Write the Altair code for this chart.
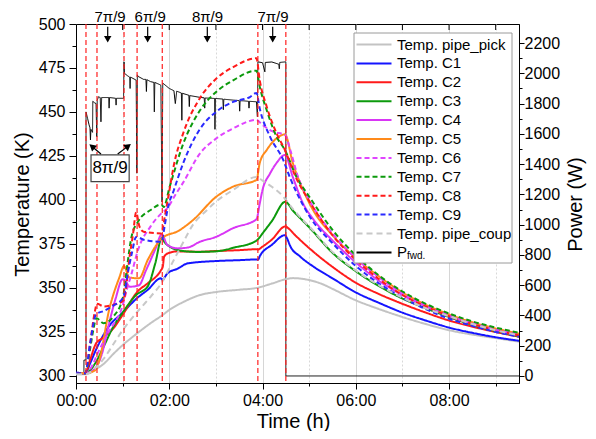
import altair as alt
import pandas as pd

FONT = "Liberation Sans"

SERIES = ["Temp. pipe_pick", "Temp. C1", "Temp. C2", "Temp. C3", "Temp. C4",
          "Temp. C5", "Temp. C6", "Temp. C7", "Temp. C8", "Temp. C9",
          "Temp. pipe_coup", "P_fwd."]
COLORS = ["#c3c3c3", "#1414ff", "#ff1a1a", "#0c9a0c", "#d936f5",
          "#ff8a1a", "#e045ff", "#0c9a0c", "#ff1a1a", "#2a2aff",
          "#c8c8c8", "#000000"]
DASHES = [[1, 0]] * 6 + [[5, 3]] * 4 + [[6, 4], [1, 0]]

# ---- temperature series (time in h, temperature in K) ----
pipe_pick_t = [0, 0.2, 0.4, 0.6, 0.8, 1.0, 1.3, 1.6, 1.85, 2.0, 2.3, 2.66, 3.0, 3.5, 3.87, 4.2, 4.5, 4.65, 5.0, 5.3, 5.5, 6.0, 6.5, 7.0, 7.5, 8.0, 8.5, 9.0, 9.5]
pipe_pick_T = [301, 301, 303.5, 307, 312.5, 317.5, 324, 330, 334.5, 337.5, 342, 346, 347.7, 349, 350, 352.5, 355, 355.6, 354.5, 352, 349.5, 343, 338, 333.5, 329.5, 326, 323.5, 321.5, 319.5]

c1_t = [0, 0.2, 0.3, 0.43, 0.7, 1.0, 1.3, 1.54, 1.82, 1.86, 1.9, 1.96, 2.18, 2.4, 3.0, 3.5, 3.87, 3.9, 3.95, 4.2, 4.48, 4.52, 4.6, 4.8, 5.1, 5.5, 6.0, 6.5, 7.0, 7.5, 8.0, 8.5, 9.0, 9.5]
c1_T = [302, 301.5, 307, 315, 328, 336, 344, 349, 355.5, 354.5, 356, 358.3, 361, 364, 365.3, 365.8, 366.2, 366, 368.5, 374.5, 380, 378.5, 373.5, 368, 362, 355.5, 347.5, 341.5, 336, 331.5, 327.5, 324.5, 322, 320]

c2_t = [0, 0.2, 0.3, 0.43, 0.57, 0.8, 1.0, 1.32, 1.54, 1.82, 1.86, 1.89, 2.0, 2.18, 2.66, 3.0, 3.5, 3.87, 3.9, 4.0, 4.2, 4.49, 4.55, 4.7, 5.09, 5.5, 6.0, 6.5, 7.0, 7.5, 8.0, 8.5, 9.0, 9.5]
c2_T = [301.5, 301.5, 309, 318.5, 321.5, 327, 334.7, 348, 352.7, 360, 362, 367.8, 370, 370.8, 370.6, 371, 371.5, 372, 371.8, 373.5, 377.5, 385, 384, 380, 370.6, 362, 353, 346.5, 341, 336, 331.5, 328, 325, 322.3]

c3_t = [0, 0.2, 0.43, 0.59, 0.8, 1.0, 1.29, 1.54, 1.7, 1.84, 1.9, 2.01, 2.3, 2.6, 3.0, 3.4, 3.87, 3.93, 4.0, 4.2, 4.49, 4.65, 4.87, 5.0, 5.5, 6.0, 6.5, 7.0, 7.5, 8.0, 8.5, 9.0, 9.5]
c3_T = [301.5, 301.5, 308, 316.5, 328, 336, 346, 351, 364, 378.5, 376, 373.5, 371, 370.5, 370.8, 373, 376.9, 378.5, 381, 388, 399, 394, 388, 384.5, 370, 359.5, 351, 344, 338.5, 333.5, 329, 325.5, 322.5]

c4_t = [0, 0.2, 0.4, 0.55, 0.71, 0.85, 1.0, 1.05, 1.15, 1.35, 1.5, 1.7, 1.84, 1.96, 2.18, 2.4, 2.66, 3.0, 3.37, 3.87, 3.94, 4.0, 4.16, 4.3, 4.48, 4.65, 4.87, 5.09, 5.5, 6.0, 6.5, 7.0, 7.5, 8.0, 8.5, 9.0, 9.5]
c4_T = [301.5, 301.5, 304, 312, 330, 344, 355, 354.5, 350.7, 351.5, 360, 372, 380.5, 374.4, 372.5, 373, 376.3, 379, 384, 389, 398, 405.7, 415, 421, 425.6, 413, 398, 389, 377, 364.5, 354, 346, 339.5, 334, 329.5, 326, 322.8]

c5_t = [0, 0.2, 0.4, 0.5, 0.71, 0.93, 1.03, 1.14, 1.35, 1.54, 1.84, 2.2, 2.51, 3.01, 3.37, 3.87, 3.94, 4.09, 4.3, 4.48, 4.65, 4.87, 5.09, 5.5, 6.0, 6.5, 7.0, 7.5, 8.0, 8.5, 9.0, 9.5]
c5_T = [301.5, 301.5, 303, 309, 337.5, 356, 362.5, 356, 355.5, 366, 378.2, 382.5, 388.6, 401.9, 407.6, 411.4, 421, 428.4, 435, 437.3, 421, 405.7, 394, 380, 367, 356.5, 347.5, 340.5, 335, 330.5, 327, 324]

c6_t = [0, 0.2, 0.35, 0.45, 0.7, 1.0, 1.1, 1.19, 1.33, 1.6, 1.83, 1.96, 2.11, 2.3, 2.66, 3.01, 3.37, 3.87, 4.0, 4.23, 4.48, 4.6, 4.75, 5.0, 5.5, 6.0, 6.5, 7.0, 7.5, 8.0, 8.5, 9.0, 9.5]
c6_T = [301.5, 301.5, 306, 312, 325, 340, 350, 358, 371.6, 385, 392.4, 395.3, 402, 410, 426.5, 435, 440.7, 445.5, 442.6, 438.8, 437, 428, 414, 400, 381, 367, 356, 347, 340, 334.5, 330, 326.5, 323.5]

c7_t = [0, 0.2, 0.3, 0.37, 0.44, 0.59, 0.8, 1.01, 1.1, 1.19, 1.33, 1.6, 1.83, 1.88, 2.01, 2.3, 2.66, 3.01, 3.37, 3.87, 3.94, 4.09, 4.3, 4.48, 4.73, 5.0, 5.5, 6.0, 6.5, 7.0, 7.5, 8.0, 8.5, 9.0, 9.5]
c7_T = [301.5, 301.5, 315, 326, 332.8, 330, 333.7, 345, 363, 379, 387.7, 394.3, 397.5, 396, 407.6, 432, 451, 461.5, 468, 473.5, 464.4, 451, 436, 428.4, 413, 402, 383, 368.5, 357, 348, 341, 335.5, 331, 327.5, 324.5]

c8_t = [0, 0.2, 0.3, 0.4, 0.45, 0.6, 0.8, 1.0, 1.05, 1.15, 1.22, 1.29, 1.36, 1.45, 1.83, 1.9, 2.0, 2.1, 2.3, 2.66, 3.01, 3.37, 3.87, 3.94, 4.09, 4.3, 4.48, 4.73, 5.0, 5.5, 6.0, 6.5, 7.0, 7.5, 8.0, 8.5, 9.0, 9.5]
c8_T = [301.5, 301.5, 318, 336, 341, 339.5, 340.5, 342.5, 346, 368, 380, 393, 385, 382, 381, 390, 405, 420, 438, 458, 469, 475.5, 480.5, 468, 453, 438, 428.4, 412, 399.5, 380, 366, 355, 346, 339.5, 334, 329.5, 326, 323]

c9_t = [0, 0.2, 0.3, 0.43, 0.6, 0.8, 1.0, 1.04, 1.11, 1.2, 1.29, 1.47, 1.83, 1.9, 1.96, 2.1, 2.3, 2.65, 3.0, 3.37, 3.73, 3.87, 3.94, 4.16, 4.44, 4.6, 4.87, 5.0, 5.5, 6.0, 6.5, 7.0, 7.5, 8.0, 8.5, 9.0, 9.5]
c9_T = [301.5, 301.5, 318, 335, 337, 340, 344, 347, 358.3, 370, 379, 377.3, 376.3, 385, 394.3, 405.7, 421, 440, 450, 455.7, 458.5, 460.8, 452, 436, 423, 412, 397, 391, 375.5, 362.5, 352.5, 344.5, 338, 332.5, 328.5, 325, 322.3]

pipe_coup_t = [0, 0.2, 0.4, 0.6, 0.8, 1.0, 1.3, 1.6, 1.85, 2.0, 2.3, 2.51, 2.8, 3.0, 3.37, 3.87, 4.0, 4.2, 4.44, 4.5, 4.65, 4.87, 5.0, 5.5, 6.0, 6.5, 7.0, 7.5, 8.0, 8.5, 9.0, 9.5]
pipe_coup_T = [301, 301, 304, 310, 318, 326, 336, 345, 353.5, 361, 376, 386, 394, 399, 405.7, 413, 411, 407.5, 402, 400, 395, 388.5, 385, 370.5, 360, 351.5, 344.5, 338.5, 334, 329.5, 326, 323]

# ---- forward power (time in h, power in W) ----
power_t = [0, 0.17, 0.17, 0.215, 0.215, 0.25, 0.28, 0.30, 0.31, 0.32, 0.355, 0.36, 0.40, 0.43, 0.445, 0.455,
           0.48, 0.52, 0.535, 0.55, 0.70, 0.71, 0.72, 0.85, 0.86, 0.87, 1.02, 1.03, 1.04, 1.10, 1.15, 1.16,
           1.17, 1.29, 1.305, 1.315, 1.33, 1.45, 1.50, 1.51, 1.52, 1.6, 1.67, 1.68, 1.69, 1.82, 1.845, 1.86,
           1.87, 2.0, 2.1, 2.13, 2.16, 2.26, 2.27, 2.28, 2.42, 2.43, 2.44, 2.66, 2.75, 2.76, 2.77, 2.97,
           2.98, 2.99, 3.15, 3.16, 3.17, 3.37, 3.5, 3.51, 3.52, 3.6, 3.70, 3.71, 3.72, 3.87, 3.89, 3.9,
           4.0, 4.05, 4.06, 4.2, 4.35, 4.36, 4.37, 4.5, 4.5, 9.5]
power_W = [10, 10, 105, 105, 1745, 1700, 1660, 1640, 1560, 1630, 1610, 1815, 1805, 1800, 1580, 1820,
           1845, 1840, 1680, 1840, 1840, 1770, 1840, 1835, 1790, 1835, 1835, 2076, 2000, 1985, 1975, 1900,
           1975, 1955, 1340, 1990, 1980, 1960, 1960, 1880, 1958, 1945, 1940, 1745, 1940, 1922, 1150, 1935,
           1933, 1900, 1885, 1800, 1882, 1870, 1690, 1868, 1855, 1780, 1853, 1841, 1838, 1770, 1837, 1834,
           1630, 1834, 1830, 1760, 1829, 1823, 1820, 1750, 1819, 1818, 1815, 1770, 1815, 1812, 1713, 2076,
           2070, 2010, 2072, 2075, 2060, 2030, 2072, 2076, 0, 0]

# ---- annotations ----
heating_starts = [0.214, 0.45, 1.03, 1.31, 1.85, 3.90, 4.50]
hour_ticks = [1, 2, 3, 4, 5, 6, 7, 8, 9]
top_label_text = ["7\u03c0/9", "6\u03c0/9", "8\u03c0/9", "7\u03c0/9"]
top_label_t = [0.73, 1.59, 2.82, 4.225]
top_arrow_t = [0.68, 1.537, 2.816, 4.218]
box_text = "8\u03c0/9"
box_t = [0.322, 1.14]
box_T = [410.4, 425.6]
diag_tail_t = [0.536, 0.894]
diag_tail_T = [426.1, 426.1]
diag_head_t = [0.343, 1.119]
diag_head_T = [430.4, 430.6]
diag_head_angle = [310, 53]


def rows(name, ts, vs):
    assert len(ts) == len(vs), name
    return [{"series": name, "t": a, "T": b} for a, b in zip(ts, vs)]


temp_df = pd.DataFrame(
    rows("Temp. pipe_pick", pipe_pick_t, pipe_pick_T)
    + rows("Temp. C1", c1_t, c1_T) + rows("Temp. C2", c2_t, c2_T)
    + rows("Temp. C3", c3_t, c3_T) + rows("Temp. C4", c4_t, c4_T)
    + rows("Temp. C5", c5_t, c5_T) + rows("Temp. C6", c6_t, c6_T)
    + rows("Temp. C7", c7_t, c7_T) + rows("Temp. C8", c8_t, c8_T)
    + rows("Temp. C9", c9_t, c9_T) + rows("Temp. pipe_coup", pipe_coup_t, pipe_coup_T)
)
assert len(power_t) == len(power_W)
power_df = pd.DataFrame({"series": "P_fwd.", "t": power_t, "P": power_W, "i": list(range(len(power_t)))})

T_DOMAIN = [296, 500]


def xs():
    return alt.Scale(domain=[0, 9.5], nice=False, zero=False)


def ts():
    return alt.Scale(domain=T_DOMAIN, nice=False, zero=False)


p_scale = alt.Scale(domain=[-46.5, 2326], nice=False, zero=False)

legend_label = "datum.label == 'P_fwd.' ? 'P' : datum.label"
LEG_SYMBOL = "M-1,0H6"
color_enc = alt.Color("series:N", scale=alt.Scale(domain=SERIES, range=COLORS),
                      legend=alt.Legend(title=None, labelExpr=legend_label, symbolType=LEG_SYMBOL))
dash_enc = alt.StrokeDash("series:N", scale=alt.Scale(domain=SERIES, range=DASHES),
                          legend=alt.Legend(title=None, labelExpr=legend_label, symbolType=LEG_SYMBOL))

x_axis = alt.Axis(
    values=[0, 1, 2, 3, 4, 5, 6, 7, 8, 9],
    labelExpr="datum.value % 2 == 0 ? '0' + format(datum.value, 'd') + ':00' : ''",
    tickSize={"condition": {"test": "datum.value % 2 == 0", "value": 6}, "value": 3},
    grid=True,
    gridColor={"condition": {"test": "datum.value % 2 == 0", "value": "#c8c8c8"}, "value": "#d8d8d8"},
    gridDash={"condition": {"test": "datum.value % 2 == 1", "value": [2, 2]}, "value": [1, 0]},
    labelFlush=False, labelOverlap=False, labelPadding=3,
    title="Time (h)", titleX=217, titleY=44, titleAlign="center", titleBaseline="alphabetic",
)
t_axis = alt.Axis(
    orient="left",
    values=[300 + 12.5 * k for k in range(17)],
    labelExpr="datum.value % 25 == 0 ? format(datum.value, 'd') : ''",
    tickSize={"condition": {"test": "datum.value % 25 == 0", "value": 7}, "value": 4},
    grid=False, labelOverlap=False, labelPadding=4,
    title="Temperature (K)", titleAngle=270, titleX=-48, titleY=180,
    titleAlign="center", titleBaseline="alphabetic",
)
p_axis = alt.Axis(
    orient="right",
    values=[100 * k for k in range(23)],
    labelExpr="datum.value % 200 == 0 ? format(datum.value, 'd') : ''",
    tickSize={"condition": {"test": "datum.value % 200 == 0", "value": 5}, "value": 3},
    grid=False, labelOverlap=False, labelPadding=0,
    title="Power (W)", titleAngle=270, titleX=62, titleY=180,
    titleAlign="center", titleBaseline="alphabetic",
)

temp_lines = alt.Chart(temp_df).mark_line(strokeWidth=2, interpolate="monotone").encode(
    x=alt.X("t:Q", scale=xs(), axis=x_axis),
    y=alt.Y("T:Q", scale=ts(), axis=t_axis),
    color=color_enc, strokeDash=dash_enc,
)

power_line = alt.Chart(power_df).mark_line(strokeWidth=1).encode(
    x=alt.X("t:Q", scale=xs()),
    y=alt.Y("P:Q", scale=p_scale, axis=p_axis),
    color=color_enc, strokeDash=dash_enc, order=alt.Order("i:Q"),
)

vlines = alt.Chart(pd.DataFrame({"t": heating_starts})).mark_rule(
    color="#ff2020", strokeDash=[5, 3], strokeWidth=1.2
).encode(x=alt.X("t:Q", scale=xs()))

top_ticks = alt.Chart(pd.DataFrame({"t": hour_ticks})).mark_rule(color="black", strokeWidth=1).encode(
    x=alt.X("t:Q", scale=xs()), y=alt.value(0), y2=alt.value(6))

top_labels = alt.Chart(pd.DataFrame({"t": top_label_t, "s": top_label_text, "T": [501.1] * 4})).mark_text(
    font=FONT, fontSize=15, color="black", baseline="alphabetic", align="center"
).encode(x=alt.X("t:Q", scale=xs()), y=alt.Y("T:Q", scale=ts(), axis=None), text="s:N")

arrow_df = pd.DataFrame({"t": top_arrow_t, "y0": [498.5] * 4, "y1": [492.5] * 4, "h": [491.3] * 4})
top_shafts = alt.Chart(arrow_df).mark_rule(color="black", strokeWidth=1.2).encode(
    x=alt.X("t:Q", scale=xs()),
    y=alt.Y("y0:Q", scale=ts(), axis=None), y2="y1:Q")
top_heads = alt.Chart(arrow_df).mark_point(shape="triangle-down", filled=True, size=55, color="black", opacity=1).encode(
    x=alt.X("t:Q", scale=xs()), y=alt.Y("h:Q", scale=ts(), axis=None))

box = alt.Chart(pd.DataFrame({"t0": [box_t[0]], "t1": [box_t[1]], "y0": [box_T[0]], "y1": [box_T[1]]})).mark_rect(
    fill="white", stroke="#444444", strokeWidth=1.2
).encode(x=alt.X("t0:Q", scale=xs()), x2="t1:Q",
         y=alt.Y("y0:Q", scale=ts(), axis=None), y2="y1:Q")
box_label = alt.Chart(pd.DataFrame({"t": [(box_t[0] + box_t[1]) / 2], "T": [(box_T[0] + box_T[1]) / 2], "s": [box_text]})).mark_text(
    font=FONT, fontSize=17, color="black", baseline="middle", align="center"
).encode(x=alt.X("t:Q", scale=xs()), y=alt.Y("T:Q", scale=ts(), axis=None), text="s:N")

diag_df = pd.DataFrame({"t0": diag_tail_t, "y0": diag_tail_T, "t1": diag_head_t, "y1": diag_head_T, "a": diag_head_angle})
diag_shafts = alt.Chart(diag_df).mark_rule(color="black", strokeWidth=1.2).encode(
    x=alt.X("t0:Q", scale=xs()), x2="t1:Q",
    y=alt.Y("y0:Q", scale=ts(), axis=None), y2="y1:Q")
diag_heads = alt.Chart(diag_df).mark_point(shape="triangle-up", filled=True, size=60, color="black", opacity=1).encode(
    x=alt.X("t1:Q", scale=xs()), y=alt.Y("y1:Q", scale=ts(), axis=None),
    angle=alt.Angle("a:Q", scale=None))

legend_bg = alt.Chart(pd.DataFrame({"k": [0]})).mark_rect(fill="white", stroke="#9a9a9a", strokeWidth=1).encode(
    x=alt.value(278), x2=alt.value(436), y=alt.value(9), y2=alt.value(239))
legend_sub = alt.Chart(pd.DataFrame({"s": ["fwd."]})).mark_text(
    font=FONT, fontSize=10, color="black", align="left", baseline="alphabetic"
).encode(x=alt.value(331), y=alt.value(235), text="s:N")

chart = alt.layer(
    power_line, temp_lines, vlines, top_ticks, top_labels, top_shafts, top_heads,
    box, box_label, diag_shafts, diag_heads, legend_bg, legend_sub
).resolve_scale(y="independent").properties(
    width=443, height=359,
    autosize=alt.AutoSizeParams(type="none"),
    padding={"left": 68, "top": 16, "right": 69, "bottom": 48},
).configure_view(stroke="black", strokeWidth=1).configure_axis(
    labelFont=FONT, titleFont=FONT, labelFontSize=16, titleFontSize=20, titleFontWeight="normal",
    labelColor="black", titleColor="black", domainColor="black", tickColor="black",
    domainWidth=1, tickWidth=1,
).configure_legend(
    orient="none", legendX=278, legendY=13, padding=0,
    symbolSize=100, symbolStrokeWidth=2, symbolType=LEG_SYMBOL,
    labelFont=FONT, labelFontSize=15, labelColor="black", rowPadding=2.9, labelOffset=28,
)

chart.save("out.html", embed_options={"renderer": "svg", "actions": False})
